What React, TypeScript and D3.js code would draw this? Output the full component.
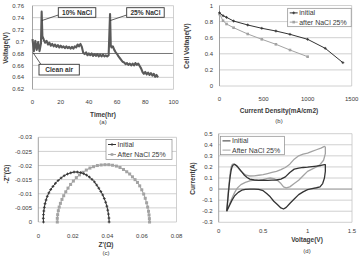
import * as d3 from "d3";

// (a) cell voltage during the salt exposure test
const timeHr = [
  0, 1, 2, 3, 4, 5, 6, 6.5, 7, 8, 9, 10, 11, 12, 13, 14, 15, 16, 17, 18, 19, 20,
  21, 22, 23, 24, 25, 26, 27, 28, 29, 30, 31, 32, 33, 34, 35, 36, 37, 38, 39, 40,
  41, 42, 43, 44, 45, 46, 47, 48, 49, 50, 51, 52, 53, 54, 55, 55.5, 56, 57, 58, 59,
  60, 61, 62, 63, 64, 65, 66, 67, 68, 69, 70, 71, 72, 73, 74, 75, 76, 77, 78, 79,
  80, 81, 82, 83, 84, 85, 86, 87, 88, 89,
];
const voltageV = [
  0.704, 0.684, 0.701, 0.686, 0.699, 0.684, 0.697, 0.75, 0.709, 0.703, 0.698, 0.701,
  0.695, 0.698, 0.693, 0.696, 0.692, 0.695, 0.691, 0.694, 0.69, 0.693, 0.69, 0.692,
  0.689, 0.692, 0.689, 0.691, 0.688, 0.691, 0.688, 0.692, 0.69, 0.695, 0.692, 0.696,
  0.691, 0.681, 0.679, 0.682, 0.677, 0.68, 0.677, 0.68, 0.676, 0.679, 0.676, 0.679,
  0.675, 0.678, 0.675, 0.678, 0.675, 0.677, 0.675, 0.677, 0.746, 0.694, 0.69, 0.692,
  0.686, 0.682, 0.679, 0.675, 0.672, 0.669, 0.666, 0.665, 0.662, 0.664, 0.661, 0.663,
  0.66, 0.663, 0.66, 0.664, 0.661, 0.663, 0.659, 0.655, 0.649, 0.646, 0.649, 0.645,
  0.648, 0.644, 0.647, 0.643, 0.646, 0.641, 0.644, 0.64,
];
const cleanAirV = 0.68;
const events = [
  { label: "10% NaCl", t: 6.5, v: 0.735 },
  { label: "25% NaCl", t: 55, v: 0.735 },
];
const aTicksX = [0, 20, 40, 60, 80, 100];
const aTicksY = [0.62, 0.64, 0.66, 0.68, 0.7, 0.72, 0.74, 0.76];

// (b) polarisation curves
const densityInitial = [0, 40, 80, 160, 320, 480, 640, 800, 1000, 1200, 1400];
const cellVInitial = [0.91, 0.873, 0.853, 0.807, 0.758, 0.717, 0.683, 0.642, 0.58, 0.468, 0.29];
const densityNaCl = [0, 40, 80, 160, 320, 480, 640, 800, 1000];
const cellVNaCl = [0.894, 0.811, 0.77, 0.724, 0.646, 0.58, 0.518, 0.447, 0.364];
const bTicksX = [0, 500, 1000, 1500];
const bTicksY = [0, 0.2, 0.4, 0.6, 0.8, 1];

// (c) impedance spectra
const zReInitial = [
  0.003, 0.0029, 0.003, 0.0032, 0.0035, 0.0039, 0.0045, 0.0052, 0.0061, 0.0072,
  0.0085, 0.0099, 0.0115, 0.0132, 0.015, 0.0169, 0.0188, 0.0207, 0.0226, 0.0245,
  0.0263, 0.028, 0.0296, 0.0311, 0.0325, 0.0338, 0.035, 0.0362, 0.0373, 0.0382,
  0.039, 0.0397, 0.0402, 0.0406, 0.0409, 0.041,
];
const zImInitial = [
  0, -0.0013, -0.0026, -0.0039, -0.0052, -0.0065, -0.0078, -0.0091, -0.0103, -0.0115,
  -0.0126, -0.0137, -0.0147, -0.0156, -0.0164, -0.017, -0.0174, -0.0177, -0.0177, -0.0175,
  -0.0171, -0.0166, -0.0159, -0.0151, -0.0142, -0.0131, -0.012, -0.0108, -0.0096, -0.0083,
  -0.007, -0.0056, -0.0042, -0.0028, -0.0014, 0,
];
const zReNaCl = [
  0.011, 0.011, 0.0112, 0.0116, 0.0121, 0.0128, 0.0137, 0.0147, 0.0159, 0.0172,
  0.0187, 0.0203, 0.022, 0.0238, 0.0258, 0.0278, 0.0299, 0.032, 0.0342, 0.0364,
  0.0386, 0.0408, 0.043, 0.0452, 0.0473, 0.0493, 0.0512, 0.0529, 0.0545, 0.056,
  0.0574, 0.0587, 0.0599, 0.061, 0.0619, 0.0627, 0.0633, 0.0638, 0.0641, 0.0643, 0.0644,
];
const zImNaCl = [
  0, -0.0013, -0.0026, -0.004, -0.0053, -0.0066, -0.008, -0.0093, -0.0107, -0.012,
  -0.0133, -0.0145, -0.0157, -0.0167, -0.0176, -0.0184, -0.0191, -0.0196, -0.02, -0.0202,
  -0.0203, -0.0203, -0.0201, -0.0198, -0.0193, -0.0186, -0.0178, -0.017, -0.016, -0.015,
  -0.014, -0.0128, -0.0114, -0.0099, -0.0084, -0.0068, -0.0053, -0.0038, -0.0025, -0.0012, 0,
];
const cTicksX = [0, 0.02, 0.04, 0.06, 0.08];
const cTicksY = [0, -0.005, -0.01, -0.015, -0.02, -0.025, -0.03];

// (d) cyclic voltammetry
const vInitial = [
  0.09, 0.1, 0.11, 0.12, 0.13, 0.14, 0.15, 0.16, 0.175, 0.19, 0.21, 0.23, 0.26, 0.29,
  0.32, 0.35, 0.4, 0.45, 0.5, 0.55, 0.6, 0.65, 0.7, 0.75, 0.8, 0.85, 0.9, 0.95, 1.0,
  1.05, 1.1, 1.15, 1.19, 1.2, 1.2, 1.19, 1.17, 1.14, 1.1, 1.05, 1.0, 0.95, 0.9, 0.85,
  0.8, 0.76, 0.73, 0.7, 0.66, 0.62, 0.58, 0.54, 0.5, 0.45, 0.4, 0.35, 0.3, 0.26, 0.22,
  0.18, 0.15, 0.12, 0.09,
];
const iInitial = [
  -0.2, -0.12, -0.03, 0.05, 0.12, 0.17, 0.2, 0.215, 0.222, 0.218, 0.205, 0.185, 0.155,
  0.125, 0.105, 0.09, 0.082, 0.078, 0.08, 0.078, 0.08, 0.082, 0.09, 0.11, 0.15, 0.18,
  0.19, 0.195, 0.198, 0.203, 0.208, 0.213, 0.22, 0.22, 0.16, 0.1, 0.05, 0.02, 0.012,
  0.005, -0.005, -0.025, -0.05, -0.09, -0.13, -0.165, -0.18, -0.17, -0.14, -0.11, -0.07,
  -0.04, -0.015, -0.003, 0, 0, -0.003, -0.01, -0.03, -0.06, -0.1, -0.15, -0.2,
];
const vNaCl = [
  0.09, 0.1, 0.11, 0.12, 0.13, 0.14, 0.15, 0.165, 0.18, 0.2, 0.22, 0.25, 0.28, 0.31,
  0.35, 0.4, 0.45, 0.5, 0.55, 0.6, 0.65, 0.7, 0.75, 0.8, 0.85, 0.9, 0.95, 1.0, 1.05,
  1.1, 1.15, 1.19, 1.2, 1.2, 1.18, 1.14, 1.1, 1.05, 1.0, 0.95, 0.9, 0.85, 0.8, 0.76,
  0.73, 0.7, 0.66, 0.62, 0.58, 0.54, 0.5, 0.45, 0.4, 0.35, 0.3, 0.25, 0.21, 0.18, 0.15,
  0.12, 0.09,
];
const iNaCl = [
  -0.2, -0.1, 0, 0.08, 0.15, 0.2, 0.22, 0.228, 0.225, 0.21, 0.19, 0.16, 0.14, 0.125,
  0.118, 0.12, 0.125, 0.13, 0.14, 0.15, 0.16, 0.175, 0.195, 0.225, 0.27, 0.3, 0.315,
  0.325, 0.34, 0.355, 0.37, 0.385, 0.38, 0.32, 0.26, 0.22, 0.2, 0.18, 0.16, 0.12, 0.08,
  0.05, 0.02, 0.01, 0.02, 0.05, 0.08, 0.095, 0.1, 0.095, 0.085, 0.08, 0.08, 0.075, 0.06,
  0.04, 0.01, -0.03, -0.08, -0.14, -0.2,
];
const dTicksX = [0, 0.5, 1, 1.5];
const dTicksY = [-0.3, -0.2, -0.1, 0, 0.1, 0.2, 0.3, 0.4, 0.5];

const FONT = "'Liberation Sans', Arial, sans-serif";
const GRID = "#c4c4c4";
const AXIS = "#8a8a8a";
const INK = "#3a3a3a";
const DARK = "#333";
const LIGHT = "#a3a3a3";

const fmt = (v: number) => String(+v.toFixed(3));

type Scale = d3.ScaleLinear<number, number>;

function Frame({ x, y, xTicks, yTicks, yLabelX, xLabelY }: {
  x: Scale; y: Scale; xTicks: number[]; yTicks: number[]; yLabelX: number; xLabelY: number;
}) {
  const [x0, x1] = x.range();
  const [yb, yt] = y.range();
  return (
    <g>
      {yTicks.map((t) => (
        <g key={`y${t}`}>
          <line x1={x0} x2={x1} y1={y(t)} y2={y(t)} stroke={GRID} strokeWidth={0.8} />
          <text x={yLabelX} y={y(t)} dy="0.35em" textAnchor="end" fontSize={6} fill={INK}>
            {fmt(t)}
          </text>
        </g>
      ))}
      {xTicks.map((t) => (
        <text key={`x${t}`} x={x(t)} y={xLabelY} dy="0.35em" textAnchor="middle" fontSize={6} fill={INK}>
          {fmt(t)}
        </text>
      ))}
      <line x1={x0} x2={x0} y1={yb} y2={yt} stroke={AXIS} strokeWidth={0.8} />
      <line x1={x1} x2={x1} y1={yb} y2={yt} stroke={GRID} strokeWidth={0.8} />
    </g>
  );
}

function Titles({ cx, xTitle, xTitleY, yTitle, yTitleX, cy, tag, tagY }: {
  cx: number; xTitle: string; xTitleY: number; yTitle: string; yTitleX: number; cy: number;
  tag: string; tagY: number;
}) {
  return (
    <g fill={INK}>
      <text x={cx} y={xTitleY} dy="0.35em" textAnchor="middle" fontSize={6.5} fontWeight="bold">
        {xTitle}
      </text>
      <text
        transform={`translate(${yTitleX},${cy}) rotate(-90)`}
        dy="0.35em"
        textAnchor="middle"
        fontSize={6.5}
        fontWeight="bold"
      >
        {yTitle}
      </text>
      <text x={cx} y={tagY} dy="0.35em" textAnchor="middle" fontSize={6}>
        {tag}
      </text>
    </g>
  );
}

function Plus({ x, y, color }: { x: number; y: number; color: string }) {
  return (
    <path d={`M${x - 1.4},${y}H${x + 1.4}M${x},${y - 1.4}V${y + 1.4}`} stroke={color} strokeWidth={0.9} />
  );
}

function Square({ x, y, color, s = 2.6 }: { x: number; y: number; color: string; s?: number }) {
  return <rect x={x - s / 2} y={y - s / 2} width={s} height={s} fill={color} />;
}

function Legend({ x, y, w, h, items }: {
  x: number; y: number; w: number; h: number;
  items: { label: string; color: string; marker?: "plus" | "square" }[];
}) {
  return (
    <g>
      <rect x={x} y={y} width={w} height={h} fill="#fff" stroke="#8a8a8a" strokeWidth={0.7} />
      {items.map((it, i) => {
        const ly = y + h * (i + 0.5) / items.length;
        return (
          <g key={it.label}>
            <line x1={x + 2} x2={x + 10} y1={ly} y2={ly} stroke={it.color} strokeWidth={1} />
            {it.marker === "plus" && <Plus x={x + 6} y={ly} color={it.color} />}
            {it.marker === "square" && <Square x={x + 6} y={ly} color={it.color} />}
            <text x={x + 11.5} y={ly} dy="0.35em" fontSize={7} fill={INK}>
              {it.label}
            </text>
          </g>
        );
      })}
    </g>
  );
}

function PanelA() {
  const x = d3.scaleLinear().domain([0, 100]).range([32.5, 173.5]);
  const y = d3.scaleLinear().domain([0.62, 0.76]).range([89.3, 5.7]);
  const trace = d3.line<number>().x((_, i) => x(timeHr[i])).y((v) => y(v))(voltageV) ?? "";
  return (
    <g>
      <Frame x={x} y={y} xTicks={aTicksX} yTicks={aTicksY} yLabelX={24} xLabelY={101.7} />
      <line x1={x(0)} x2={x(100) - 1} y1={y(cleanAirV)} y2={y(cleanAirV)} stroke="#7a7a7a" strokeWidth={1.1} />
      <path d={trace} fill="none" stroke="#5a5a5a" strokeWidth={2.1} strokeLinejoin="round" />
      {events.map((e, i) => {
        const bx = i === 0 ? 58.3 : 126.7;
        return (
          <g key={e.label}>
            <line x1={bx} y1={15} x2={x(e.t)} y2={y(e.v)} stroke={DARK} strokeWidth={0.8} />
            <rect x={bx} y={7.7} width={37.5} height={9.6} fill="#fff" stroke={DARK} strokeWidth={0.9} />
            <text x={bx + 18.75} y={12.5} dy="0.35em" textAnchor="middle" fontSize={6.6} fontWeight="bold" fill={DARK}>
              {e.label}
            </text>
          </g>
        );
      })}
      <line x1={x(0.3)} y1={y(cleanAirV) - 1} x2={41} y2={64.5} stroke={DARK} strokeWidth={0.8} />
      <rect x={39} y={64.3} width={40.3} height={10.7} fill="#fff" stroke={DARK} strokeWidth={0.9} />
      <text x={59.2} y={69.7} dy="0.35em" textAnchor="middle" fontSize={6.6} fontWeight="bold" fill={DARK}>
        Clean air
      </text>
      <Titles cx={103} xTitle="Time(hr)" xTitleY={114.3} yTitle="Voltage(V)" yTitleX={5.5} cy={48}
        tag="(a)" tagY={121.5} />
    </g>
  );
}

function PanelB() {
  const x = d3.scaleLinear().domain([0, 1500]).range([219.5, 351.7]);
  const y = d3.scaleLinear().domain([0, 1]).range([86, 5.5]);
  const line = (xs: number[]) => d3.line<number>().x((_, i) => x(xs[i])).y((v) => y(v));
  return (
    <g>
      <Frame x={x} y={y} xTicks={bTicksX} yTicks={bTicksY} yLabelX={213} xLabelY={99} />
      <path d={line(densityNaCl)(cellVNaCl) ?? ""} fill="none" stroke={LIGHT} strokeWidth={1} />
      {cellVNaCl.map((v, i) => <Square key={i} x={x(densityNaCl[i])} y={y(v)} color={LIGHT} />)}
      <path d={line(densityInitial)(cellVInitial) ?? ""} fill="none" stroke={DARK} strokeWidth={1} />
      {cellVInitial.map((v, i) => <Plus key={i} x={x(densityInitial[i])} y={y(v)} color={DARK} />)}
      <Legend x={287.7} y={8.3} w={63.5} h={18.4} items={[
        { label: "initial", color: DARK, marker: "plus" },
        { label: "after NaCl 25%", color: LIGHT, marker: "square" },
      ]} />
      <Titles cx={279} xTitle="Current Density(mA/cm2)" xTitleY={110.7} yTitle="Cell Voltage(V)"
        yTitleX={186.5} cy={46} tag="(b)" tagY={121} />
    </g>
  );
}

function PanelC() {
  const x = d3.scaleLinear().domain([0, 0.08]).range([38.3, 176.5]);
  const y = d3.scaleLinear().domain([0, -0.03]).range([222, 137.3]);
  const line = (xs: number[]) => d3.line<number>().x((_, i) => x(xs[i])).y((v) => y(v));
  return (
    <g>
      <Frame x={x} y={y} xTicks={cTicksX} yTicks={cTicksY} yLabelX={32} xLabelY={235.5} />
      <path d={line(zReNaCl)(zImNaCl) ?? ""} fill="none" stroke={LIGHT} strokeWidth={1} />
      {zImNaCl.map((v, i) => <Square key={i} x={x(zReNaCl[i])} y={y(v)} color={LIGHT} s={3} />)}
      <path d={line(zReInitial)(zImInitial) ?? ""} fill="none" stroke={DARK} strokeWidth={1} />
      {zImInitial.map((v, i) => <Plus key={i} x={x(zReInitial[i])} y={y(v)} color={DARK} />)}
      <Legend x={106} y={139.5} w={66} h={20} items={[
        { label: "Initial", color: DARK, marker: "plus" },
        { label: "After NaCl 25%", color: LIGHT, marker: "square" },
      ]} />
      <Titles cx={106} xTitle="Z'(Ω)" xTitleY={244.7} yTitle="-Z''(Ω)" yTitleX={6.7} cy={174}
        tag="(c)" tagY={253} />
    </g>
  );
}

function PanelD() {
  const x = d3.scaleLinear().domain([0, 1.5]).range([218.7, 352]);
  const y = d3.scaleLinear().domain([-0.3, 0.5]).range([222.3, 133.7]);
  const line = (xs: number[]) => d3.line<number>().x((_, i) => x(xs[i])).y((v) => y(v));
  return (
    <g>
      <Frame x={x} y={y} xTicks={dTicksX} yTicks={dTicksY} yLabelX={212.5} xLabelY={231.3} />
      <line x1={x(0)} x2={x(1.5)} y1={y(0)} y2={y(0)} stroke={AXIS} strokeWidth={0.8} />
      <path d={line(vNaCl)(iNaCl) ?? ""} fill="none" stroke={LIGHT} strokeWidth={1.3} strokeLinejoin="round" />
      <path d={line(vInitial)(iInitial) ?? ""} fill="none" stroke={DARK} strokeWidth={1.3} strokeLinejoin="round" />
      <Legend x={220.5} y={136.3} w={64} h={18.4} items={[
        { label: "Initial", color: DARK },
        { label: "After NaCl 25%", color: LIGHT },
      ]} />
      <Titles cx={307} xTitle="Voltage(V)" xTitleY={240} yTitle="Current(A)" yTitleX={192.7} cy={178.5}
        tag="(d)" tagY={250.5} />
    </g>
  );
}

export default function App() {
  return (
    <svg
      width={362}
      height={257}
      style={{ position: "absolute", left: 0, top: 0, background: "#fff" }}
      fontFamily={FONT}
    >
      <rect width={362} height={257} fill="#fff" />
      <PanelA />
      <PanelB />
      <PanelC />
      <PanelD />
    </svg>
  );
}
